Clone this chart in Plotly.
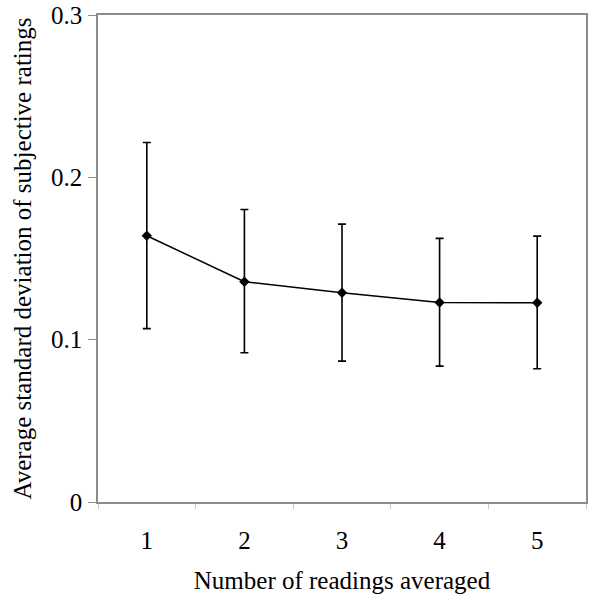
import plotly.graph_objects as go

readings = [1, 2, 3, 4, 5]
tick_labels = ["1", "2", "3", "4", "5"]
avg_sd = [0.164, 0.1357, 0.1289, 0.1229, 0.1227]
err_plus = [0.0575, 0.0445, 0.0423, 0.0395, 0.0411]
err_minus = [0.0572, 0.0438, 0.0421, 0.0392, 0.0406]
y_ticks = [0, 0.1, 0.2, 0.3]
y_tick_labels = ["0", "0.1", "0.2", "0.3"]

FONT = "Liberation Serif, Times New Roman, serif"
AXIS_GRAY = "#8c8c8c"

fig = go.Figure()
fig.add_trace(go.Scatter(
    x=readings, y=avg_sd,
    mode="lines+markers",
    line=dict(color="black", width=1.5),
    marker=dict(symbol="diamond", size=8, color="black"),
    error_y=dict(type="data", symmetric=False, array=err_plus, arrayminus=err_minus,
                 color="black", thickness=1.6, width=4),
    showlegend=False,
))

fig.update_layout(
    width=592, height=598,
    margin=dict(l=98, r=6, t=15, b=96, autoexpand=False),
    paper_bgcolor="white", plot_bgcolor="white",
    font=dict(family=FONT, size=25, color="black"),
    xaxis=dict(
        range=[0.5, 5.5],
        tickmode="array", tickvals=readings, ticktext=tick_labels,
        ticks="", ticklabelstandoff=15,
        showgrid=False, zeroline=False,
        showline=True, linecolor=AXIS_GRAY, linewidth=1.5, mirror=True,
        minor=dict(tick0=0.5, dtick=1, ticks="outside", ticklen=5,
                   tickcolor="#c8c8c8", tickwidth=1, showgrid=False),
        title=dict(text="Number of readings averaged", standoff=19,
                   font=dict(family=FONT, size=25)),
    ),
    yaxis=dict(
        range=[0, 0.3],
        tickmode="array", tickvals=y_ticks, ticktext=y_tick_labels,
        ticks="outside", ticklen=8, tickcolor=AXIS_GRAY, tickwidth=1,
        ticklabelstandoff=1,
        showgrid=False, zeroline=False,
        showline=True, linecolor=AXIS_GRAY, linewidth=1.5, mirror=True,
        title=dict(text="Average standard deviation of subjective ratings", standoff=12,
                   font=dict(family=FONT, size=25)),
    ),
)

fig.write_html("out.html", config={"displayModeBar": False},
               post_script="document.body.style.margin='0';")
